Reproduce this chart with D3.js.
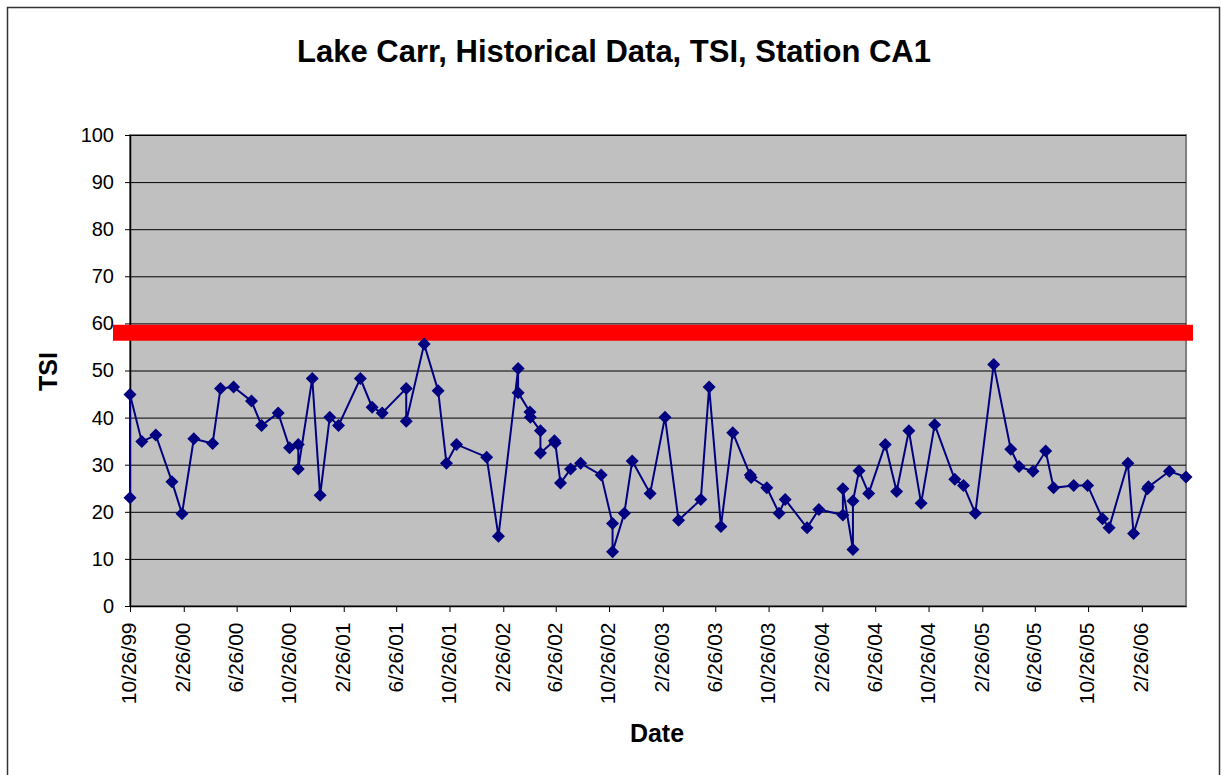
<!DOCTYPE html>
<html>
<head>
<meta charset="utf-8">
<script src="https://cdn.jsdelivr.net/npm/d3@7"></script>
<style>
  body { margin: 0; background: #fff; }
  svg { display: block; font-family: "Liberation Sans", Arial, sans-serif; }
</style>
</head>
<body>
<div id="plot"></div>
<script>
// sample dates (m/d/yy) and TSI values
const sampleDates = [
  "10/26/99","10/26/99","11/22/99","12/24/99","1/30/00","2/22/00","3/20/00","5/2/00","5/20/00","6/19/00",
  "7/30/00","8/22/00","9/29/00","10/25/00","11/14/00","11/14/00","12/16/00","1/3/01","1/25/01","2/14/01",
  "4/5/01","5/2/01","5/25/01","7/19/01","7/19/01","8/29/01","9/30/01","10/19/01","11/11/01","1/19/02",
  "2/15/02","4/1/02","4/1/02","4/28/02","4/29/02","5/22/02","5/22/02","6/23/02","6/25/02","7/7/02",
  "7/30/02","8/22/02","10/8/02","11/3/02","11/3/02","11/30/02","12/18/02","1/28/03","3/3/03","4/3/03",
  "5/24/03","6/12/03","7/9/03","8/5/03","9/14/03","9/16/03","10/22/03","11/19/03","12/3/03","1/22/04",
  "2/18/04","4/13/04","4/13/04","5/6/04","5/6/04","5/20/04","6/11/04","7/19/04","8/14/04","9/11/04",
  "10/9/04","11/9/04","12/25/04","1/14/05","2/10/05","3/24/05","5/2/05","5/21/05","6/22/05","7/21/05",
  "8/8/05","9/23/05","10/25/05","11/28/05","12/13/05","1/25/06","2/7/06","3/11/06","3/13/06","4/30/06",
  "6/7/06"
];
const tsiValues = [
  23.0,44.9,34.9,36.3,26.4,19.6,35.5,34.5,46.2,46.5,
  43.5,38.3,41.0,33.6,34.3,29.1,48.3,23.5,40.1,38.3,
  48.3,42.2,41.0,46.2,39.2,55.6,45.7,30.3,34.3,31.6,
  14.8,50.4,45.3,41.2,40.1,37.2,32.5,35.1,34.6,26.1,
  29.1,30.3,27.8,17.5,11.5,19.7,30.8,23.9,40.1,18.2,
  22.6,46.5,16.9,36.8,27.8,27.3,25.1,19.7,22.6,16.6,
  20.5,19.3,24.9,12.0,22.3,28.7,23.9,34.3,24.3,37.2,
  21.8,38.5,26.9,25.6,19.7,51.3,33.3,29.6,28.6,32.9,
  25.1,25.6,25.6,18.5,16.6,30.3,15.4,24.9,25.3,28.6,
  27.4
];
const xTickLabels = [
  "10/26/99","2/26/00","6/26/00","10/26/00","2/26/01","6/26/01","10/26/01","2/26/02","6/26/02","10/26/02",
  "2/26/03","6/26/03","10/26/03","2/26/04","6/26/04","10/26/04","2/26/05","6/26/05","10/26/05","2/26/06"
];
const yTicks = [0,10,20,30,40,50,60,70,80,90,100];
const thresholdTSI = 58;

window.addEventListener("load", main);

function main(){
  let [svgWidth, svgHeight] = [1222, 775];
  let plot = {left: 130, right: 1186, top: 135, bottom: 606};
  let parse = d3.timeParse("%m/%d/%y");
  let font = '"Liberation Sans", Arial, sans-serif';

  let data = sampleDates.map((d, i) => ({date: parse(d), tsi: tsiValues[i]}));

  let svg = d3.select('#plot').append('svg')
    .attr('width', svgWidth)
    .attr('height', svgHeight);

  // chart area border
  svg.append('rect')
    .attr('x', 7.5).attr('y', 7.5)
    .attr('width', 1212).attr('height', 780)
    .attr('fill', 'white')
    .attr('stroke', '#333').attr('stroke-width', 1.5);

  let xsc = d3.scaleTime()
    .domain([data[0].date, data[data.length - 1].date])
    .range([plot.left, plot.right]);

  let ysc = d3.scaleLinear()
    .domain([0, 100])
    .range([plot.bottom, plot.top]);

  // plot area
  svg.append('rect')
    .attr('x', plot.left).attr('y', plot.top)
    .attr('width', plot.right - plot.left)
    .attr('height', plot.bottom - plot.top)
    .attr('fill', '#c0c0c0')
    .attr('stroke', '#808080').attr('stroke-width', 2);

  // gridlines
  svg.append('g').selectAll('line')
    .data(yTicks.filter(t => t > 0))
    .join('line')
      .attr('x1', plot.left).attr('x2', plot.right)
      .attr('y1', d => ysc(d) + 0.5).attr('y2', d => ysc(d) + 0.5)
      .attr('stroke', '#000').attr('stroke-width', 1);

  // y axis
  let yAx = svg.append('g')
    .attr('transform', `translate(${plot.left},0)`)
    .call(d3.axisLeft(ysc).tickValues(yTicks).tickSize(5).tickPadding(11).tickSizeOuter(0));
  yAx.select('.domain').attr('stroke', '#000').attr('stroke-width', 1.5);
  yAx.selectAll('text').attr('font-size', 20).attr('fill', '#000')
    .attr('font-family', font);

  // x axis
  let xAx = svg.append('g')
    .attr('transform', `translate(0,${plot.bottom})`)
    .call(d3.axisBottom(xsc)
      .tickValues(xTickLabels.map(parse))
      .tickFormat((d, i) => xTickLabels[i])
      .tickSize(6).tickSizeOuter(0));
  xAx.select('.domain').attr('stroke', '#000').attr('stroke-width', 1.5);
  xAx.selectAll('text')
    .attr('font-size', 21).attr('fill', '#000')
    .attr('font-family', font)
    .attr('text-anchor', 'end')
    .attr('transform', 'rotate(-90)')
    .attr('x', -16.5).attr('y', -1.5).attr('dy', '0.35em');

  // threshold bar
  svg.append('line')
    .attr('x1', plot.left - 17).attr('x2', plot.right + 7)
    .attr('y1', ysc(thresholdTSI)).attr('y2', ysc(thresholdTSI))
    .attr('stroke', '#ff0000').attr('stroke-width', 16);

  // series line
  let line = d3.line().x(d => xsc(d.date)).y(d => ysc(d.tsi));
  svg.append('path')
    .datum(data)
    .attr('d', line)
    .attr('fill', 'none')
    .attr('stroke', '#000080')
    .attr('stroke-width', 2);

  // diamond markers
  svg.append('g').selectAll('path')
    .data(data)
    .join('path')
      .attr('d', 'M0,-6.5L6.5,0L0,6.5L-6.5,0Z')
      .attr('transform', d => `translate(${xsc(d.date)},${ysc(d.tsi)})`)
      .attr('fill', '#000080');

  // titles
  svg.append('text')
    .attr('x', 614).attr('y', 62)
    .attr('text-anchor', 'middle')
    .attr('font-size', 31).attr('font-weight', 'bold')
    .text('Lake Carr, Historical Data, TSI, Station CA1');

  svg.append('text')
    .attr('transform', `translate(57,${(plot.top + plot.bottom) / 2 + 1}) rotate(-90)`)
    .attr('text-anchor', 'middle')
    .attr('font-size', 25).attr('font-weight', 'bold')
    .text('TSI');

  svg.append('text')
    .attr('x', 657).attr('y', 742)
    .attr('text-anchor', 'middle')
    .attr('font-size', 25).attr('font-weight', 'bold')
    .text('Date');
}
</script>
</body>
</html>
